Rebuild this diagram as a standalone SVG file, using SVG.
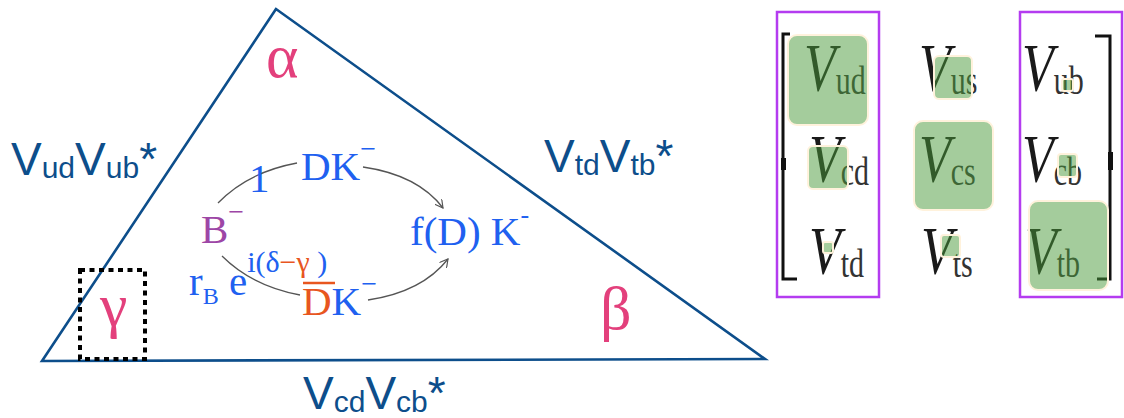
<svg xmlns="http://www.w3.org/2000/svg" width="1124" height="418" viewBox="0 0 1124 418">
<style>
.lbl{font-family:"Liberation Sans",Arial,sans-serif;fill:#0d4e8b;font-size:46px}
.sub{font-size:30px}
.greek{font-family:"Liberation Serif","Times New Roman",serif;fill:#e3407c;font-size:62px}
.ser{font-family:"Liberation Serif","Times New Roman",serif;font-size:41px}
.blue{fill:#2060f0}
.org{fill:#e8561f}
.pur{fill:#9d46a6}
.mx{font-family:"Liberation Serif","Times New Roman",serif;font-style:italic;fill:#1a1a1a;font-size:52px}
.ms{font-style:normal;font-size:30px;fill:#333}
.hl{fill:#4a9a3a;fill-opacity:0.5;stroke:#fff2dc;stroke-width:2}
.arc{fill:none;stroke:#555;stroke-width:1.3}
</style>
<defs>
<marker id="ah" viewBox="0 0 10 10" refX="9" refY="5" markerWidth="9" markerHeight="9" markerUnits="userSpaceOnUse" orient="auto">
<path d="M0,0 L9,5 L0,10" fill="none" stroke="#555" stroke-width="1.3"/>
</marker>
</defs>
<rect width="1124" height="418" fill="#fff"/>

<g id="triangle">
<polygon points="276,9 42,361 765,359" fill="none" stroke="#0d4e8b" stroke-width="2.6"/>
</g>

<g id="gamma-box">
<rect x="80" y="270" width="65" height="89" fill="none" stroke="#000" stroke-width="4" stroke-dasharray="5 4.5"/>
</g>

<g id="labels">
<text class="lbl" x="11" y="175">V<tspan class="sub" dy="3">ud</tspan><tspan dy="-3">V</tspan><tspan class="sub" dy="3">ub</tspan><tspan dy="-3">*</tspan></text>
<text class="lbl" x="544" y="172">V<tspan class="sub" dy="3">td</tspan><tspan dy="-3">V</tspan><tspan class="sub" dy="3">tb</tspan><tspan dy="-3">*</tspan></text>
<text class="lbl" x="303" y="409">V<tspan class="sub" dy="3">cd</tspan><tspan dy="-3">V</tspan><tspan class="sub" dy="3">cb</tspan><tspan dy="-3">*</tspan></text>
<text class="greek" x="266" y="77">α</text>
<text class="greek" x="600" y="329">β</text>
<text class="greek" x="100" y="326">γ</text>
</g>

<g id="connectors">
<path class="arc" d="M218,203 Q248,172 297,163"/>
<path class="arc" d="M363,167 Q418,175 443,208" marker-end="url(#ah)"/>
<path class="arc" d="M222,256 Q252,286 300,295"/>
<path class="arc" d="M368,300 Q422,292 448,259" marker-end="url(#ah)"/>
</g>

<g id="node-one"><text class="ser blue" x="249" y="192">1</text></g>
<g id="node-DK"><text class="ser blue" x="301" y="180">DK<tspan dy="-22" font-size="28">−</tspan></text></g>
<g id="node-B"><text class="ser pur" x="201" y="243">B<tspan dy="-22" font-size="28">−</tspan></text></g>
<g id="node-fDK"><text class="ser blue" x="410" y="245" font-size="39">f(D) K<tspan dy="-22" font-size="26">-</tspan></text></g>
<g id="node-rB"><text class="ser blue" x="189" y="295">r<tspan font-size="24" dy="9">B</tspan><tspan dy="-9"> e</tspan><tspan font-size="30" dy="-23">i(δ</tspan><tspan font-size="30" class="org">−γ</tspan><tspan font-size="30"> )</tspan></text></g>
<g id="node-DbarK">
<text class="ser" x="302" y="315"><tspan class="org">D</tspan><tspan class="blue">K</tspan><tspan class="blue" dy="-22" font-size="28">−</tspan></text>
<line x1="303" y1="283" x2="335" y2="283" stroke="#e8561f" stroke-width="2.5"/>
</g>

<g id="matrix">
<g id="brackets" stroke="#111" fill="none" stroke-width="3">
<path d="M790,34 L783,34 L783,279 L797,279"/>
<path d="M1095,36 L1110,36 L1110,279 L1097,279"/>
<rect x="781" y="158" width="5" height="12" fill="#111" stroke="none"/>
<rect x="1108" y="152" width="5" height="18" fill="#111" stroke="none"/>
</g>
<g id="cell-ud"><text class="mx" transform="translate(804,90) scale(1,1.3)">V<tspan class="ms" dy="3">ud</tspan></text></g>
<g id="cell-us"><text class="mx" transform="translate(919,90) scale(1,1.3)">V<tspan class="ms" dy="3">us</tspan></text></g>
<g id="cell-ub"><text class="mx" transform="translate(1022,90) scale(1,1.3)">V<tspan class="ms" dy="3">ub</tspan></text></g>
<g id="cell-cd"><text class="mx" transform="translate(809,181) scale(1,1.3)">V<tspan class="ms" dy="3">cd</tspan></text></g>
<g id="cell-cs"><text class="mx" transform="translate(919,181) scale(1,1.3)">V<tspan class="ms" dy="3">cs</tspan></text></g>
<g id="cell-cb"><text class="mx" transform="translate(1022,181) scale(1,1.3)">V<tspan class="ms" dy="3">cb</tspan></text></g>
<g id="cell-td"><text class="mx" transform="translate(809,273) scale(1,1.3)">V<tspan class="ms" dy="3">td</tspan></text></g>
<g id="cell-ts"><text class="mx" transform="translate(921,273) scale(1,1.3)">V<tspan class="ms" dy="3">ts</tspan></text></g>
<g id="cell-tb"><text class="mx" transform="translate(1025,273) scale(1,1.3)">V<tspan class="ms" dy="3">tb</tspan></text></g>
<g id="highlights">
<rect class="hl" x="788" y="35" width="80" height="90" rx="9"/>
<rect class="hl" x="934" y="56" width="38" height="43" rx="5"/>
<rect class="hl" x="808" y="146" width="40" height="43" rx="5"/>
<rect class="hl" x="914" y="121" width="79" height="89" rx="9"/>
<rect class="hl" x="823" y="242" width="10" height="11" rx="2"/>
<rect class="hl" x="941" y="235" width="19" height="22" rx="3"/>
<rect class="hl" x="1062" y="79" width="11" height="12" rx="2"/>
<rect class="hl" x="1058" y="154" width="19" height="23" rx="3"/>
<rect class="hl" x="1029" y="201" width="79" height="89" rx="9"/>
</g>
<rect x="777" y="12" width="102" height="285" fill="none" stroke="#b43cf0" stroke-width="2.5"/>
<rect x="1020" y="12" width="102" height="285" fill="none" stroke="#b43cf0" stroke-width="2.5"/>
</g>
</svg>
